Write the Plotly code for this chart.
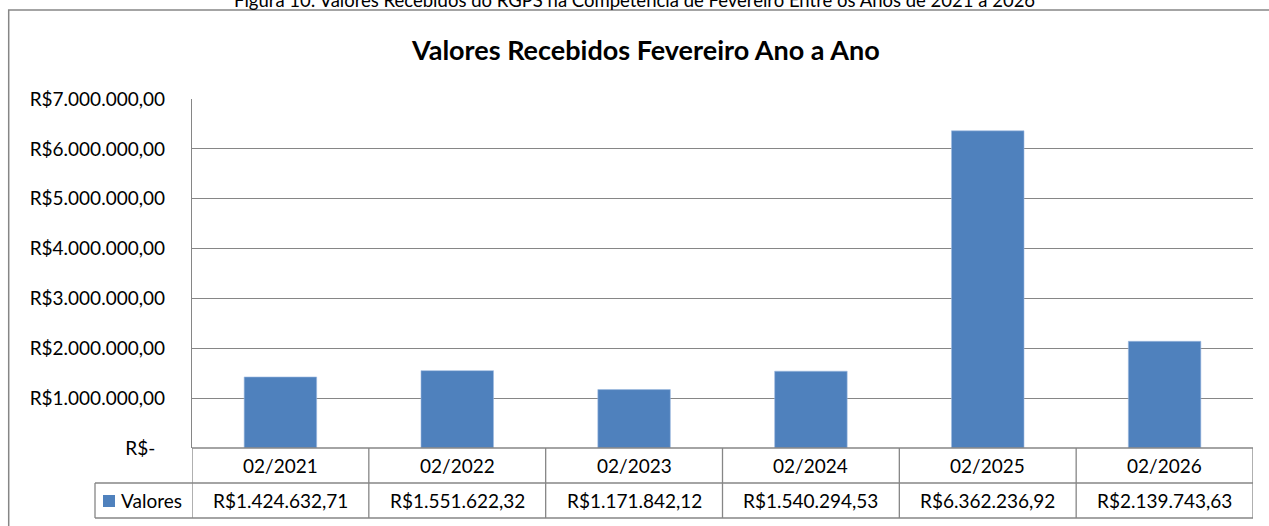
import plotly.graph_objects as go

categories = ["02/2021", "02/2022", "02/2023", "02/2024", "02/2025", "02/2026"]
valores = [1424632.71, 1551622.32, 1171842.12, 1540294.53, 6362236.92, 2139743.63]
series_name = "Valores"
tick_values = [0, 1e6, 2e6, 3e6, 4e6, 5e6, 6e6, 7e6]
title_text = "Valores Recebidos Fevereiro Ano a Ano"
caption_text = "Figura 10: Valores Recebidos do RGPS na Competência de Fevereiro Entre os Anos de 2021 a 2026"


def brl(v):
    if v == 0:
        return "R$-\u00a0\u00a0"
    s = f"{v:,.2f}"
    s = s.replace(",", "#").replace(".", ",").replace("#", ".")
    return "R$" + s


W, H = 1269, 526
L, R, T, B = 192, 16, 99, 78
pw, ph = W - L - R, H - T - B


def py(pix):
    return (H - B - pix) / ph


def px(pix):
    return (pix - L) / pw


FONT = "Lato"
FS = 19
BLUE = "#4F81BD"
GRID = "#868686"

fig = go.Figure()
fig.add_trace(go.Bar(
    x=categories, y=valores, name=series_name,
    marker=dict(color=BLUE, line=dict(color="#9dbbe0", width=0.6)),
))

shapes = []
annotations = []

n = len(categories)
row1_bot = py(483)
row2_bot = py(518)
legend_left = px(95)

line = dict(color=GRID, width=1.3)
shapes.append(dict(type="line", xref="x", yref="paper", x0=-0.5, x1=n - 0.5, y0=0, y1=0, line=line))
shapes.append(dict(type="line", xref="paper", yref="paper", x0=legend_left, x1=1, y0=row1_bot, y1=row1_bot, line=line))
shapes.append(dict(type="line", xref="paper", yref="paper", x0=legend_left, x1=1, y0=row2_bot, y1=row2_bot, line=line))
for i in range(n + 1):
    shapes.append(dict(type="line", xref="x", yref="paper", x0=i - 0.5, x1=i - 0.5, y0=row2_bot, y1=0, line=line))
shapes.append(dict(type="line", xref="paper", yref="paper", x0=legend_left, x1=legend_left, y0=row2_bot, y1=row1_bot, line=line))
shapes.append(dict(type="rect", xref="paper", yref="paper", x0=px(103), x1=px(115), y0=py(507), y1=py(495),
                   fillcolor=BLUE, line=dict(width=0)))
shapes.append(dict(type="rect", xref="paper", yref="paper", x0=px(8.7), x1=px(1290), y0=py(600), y1=py(10),
                   line=dict(color=GRID, width=1.5), fillcolor="rgba(0,0,0,0)", layer="below"))

for c, v in zip(categories, valores):
    annotations.append(dict(x=c, xref="x", y=(0 + row1_bot) / 2, yref="paper", text=c, showarrow=False,
                            font=dict(family=FONT, size=FS, color="#000"), yanchor="middle"))
    annotations.append(dict(x=c, xref="x", y=(row1_bot + row2_bot) / 2, yref="paper", text=brl(v), showarrow=False,
                            font=dict(family=FONT, size=FS, color="#000"), yanchor="middle"))
annotations.append(dict(x=px(119), xref="paper", y=(row1_bot + row2_bot) / 2, yref="paper", text=series_name,
                        showarrow=False, xanchor="left", yanchor="middle",
                        font=dict(family=FONT, size=FS, color="#000")))
annotations.append(dict(x=px(645), xref="paper", y=py(49), yref="paper", text="<b>" + title_text + "</b>",
                        showarrow=False, xanchor="center", yanchor="middle",
                        font=dict(family=FONT, size=27, color="#000")))
annotations.append(dict(x=px(634), xref="paper", y=py(0), yref="paper", text=caption_text,
                        showarrow=False, xanchor="center", yanchor="middle",
                        font=dict(family=FONT, size=18.5, color="#000")))

fig.update_layout(
    width=W, height=H,
    margin=dict(l=L, r=R, t=T, b=B),
    paper_bgcolor="white", plot_bgcolor="white",
    showlegend=False,
    bargap=0.59,
    font=dict(family=FONT, size=FS, color="#000"),
    shapes=shapes,
    annotations=annotations,
    xaxis=dict(type="category", range=[-0.5, n - 0.5], showticklabels=False, showgrid=False,
               zeroline=False, showline=False, ticks=""),
    yaxis=dict(range=[0, 7e6], tickvals=tick_values, ticktext=[brl(v) for v in tick_values],
               showgrid=True, gridcolor=GRID, gridwidth=1.3, zeroline=False,
               showline=True, linecolor=GRID, linewidth=1.3,
               ticks="", ticklabelstandoff=22,
               tickfont=dict(family=FONT, size=FS, color="#000")),
)

fig.write_html("out.html", config={"displayModeBar": False},
               post_script="document.body.style.margin='0';document.body.style.overflow='hidden';")
